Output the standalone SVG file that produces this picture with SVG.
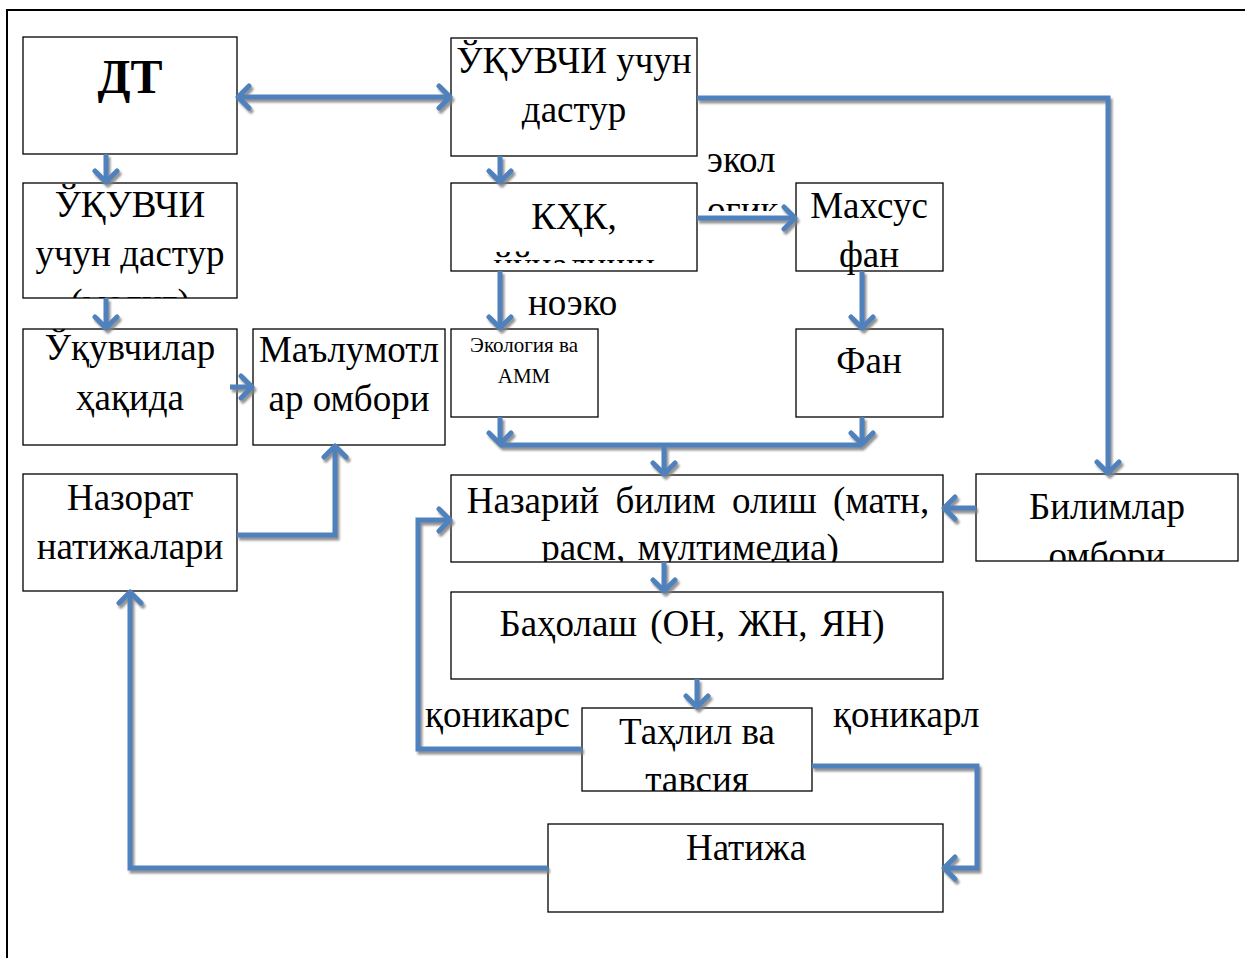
<svg xmlns="http://www.w3.org/2000/svg" width="1245" height="958" viewBox="0 0 1245 958">
<style>
.box{fill:#fff;stroke:#000;stroke-width:1.3}
.t{font-family:"Liberation Serif","Times New Roman",serif;font-size:37px;fill:#000;text-anchor:middle}
.tl{font-family:"Liberation Serif","Times New Roman",serif;font-size:37px;fill:#000}
.ts{font-family:"Liberation Serif","Times New Roman",serif;font-size:21px;fill:#000;text-anchor:middle}
.c{fill:none;stroke:#4F81BD;stroke-width:5}
</style>
<defs>
<marker id="ah" viewBox="-14 -14 20 28" refX="0" refY="0" markerWidth="20" markerHeight="28" orient="auto-start-reverse" markerUnits="userSpaceOnUse">
<path d="M-9,-11 L2,0 L-9,11" fill="none" stroke="#4F81BD" stroke-width="5" stroke-linecap="round" stroke-linejoin="round"/>
</marker>
<filter id="sh" x="-5%" y="-5%" width="110%" height="110%">
<feDropShadow dx="2" dy="3" stdDeviation="0.8" flood-color="#808080" flood-opacity="0.85"/>
</filter>
<clipPath id="cL1"><rect x="23" y="183" width="214" height="115"/></clipPath>
<clipPath id="cK"><rect x="451" y="183" width="246" height="80"/></clipPath>
<clipPath id="cU"><rect x="23" y="329" width="214" height="116"/></clipPath>
<clipPath id="cN"><rect x="451" y="475" width="492" height="87"/></clipPath>
<clipPath id="cB"><rect x="976" y="474" width="262" height="87"/></clipPath>
<clipPath id="cT"><rect x="582" y="708" width="230" height="83"/></clipPath>
<clipPath id="cE"><rect x="700" y="180" width="90" height="31"/></clipPath>
</defs>
<rect x="7" y="10" width="1260" height="1000" fill="#fff" stroke="#000" stroke-width="2"/>

<g id="n-dt"><rect class="box" x="23" y="37" width="214" height="117"/>
<text class="t" x="130" y="93" style="font-size:48px;font-weight:bold">ДТ</text></g>

<g id="n-top"><rect class="box" x="451" y="38" width="246" height="118"/>
<text class="t" x="574" y="73">ЎҚУВЧИ учун</text><text class="t" x="574" y="122">дастур</text></g>

<g id="n-left1"><rect class="box" x="23" y="183" width="214" height="115"/>
<g clip-path="url(#cL1)"><text class="t" x="130" y="217">ЎҚУВЧИ</text><text class="t" x="130" y="266">учун дастур</text><text class="t" x="130" y="315">(модул)</text></g></g>

<g id="n-kqk"><rect class="box" x="451" y="183" width="246" height="88"/>
<g clip-path="url(#cK)"><text class="t" x="574" y="229">КҲК,</text><text class="t" x="574" y="278">йўналиши</text></g></g>

<g id="n-mahsus"><rect class="box" x="796" y="183" width="147" height="88"/>
<text class="t" x="869" y="218">Махсус</text><text class="t" x="869" y="267">фан</text></g>

<g id="n-ekol"><rect class="box" x="451" y="329" width="147" height="88"/>
<text class="ts" x="524" y="352">Экология ва</text><text class="ts" x="524" y="383">АММ</text></g>

<g id="n-fan"><rect class="box" x="796" y="329" width="147" height="88"/>
<text class="t" x="869" y="373">Фан</text></g>

<g id="n-uquv"><rect class="box" x="23" y="329" width="214" height="116"/>
<g clip-path="url(#cU)"><text class="t" x="130" y="360">Ўқувчилар</text><text class="t" x="130" y="410">ҳақида</text><text class="t" x="130" y="463">маълумот</text></g></g>

<g id="n-malumot"><rect class="box" x="253" y="329" width="192" height="116"/>
<text class="t" x="349" y="362">Маълумотл</text><text class="t" x="349" y="411">ар омбори</text></g>

<g id="n-nazorat"><rect class="box" x="23" y="474" width="214" height="117"/>
<text class="t" x="130" y="510">Назорат</text><text class="t" x="130" y="559">натижалари</text></g>

<g id="n-nazariy"><rect class="box" x="451" y="475" width="492" height="87"/>
<g clip-path="url(#cN)"><text class="t" x="698" y="513" word-spacing="7">Назарий билим олиш (матн,</text><text class="t" x="690" y="560" word-spacing="3">расм, мултимедиа)</text></g></g>

<g id="n-bilim"><rect class="box" x="976" y="474" width="262" height="87"/>
<g clip-path="url(#cB)"><text class="t" x="1107" y="519">Билимлар</text><text class="t" x="1107" y="568">омбори</text></g></g>

<g id="n-baho"><rect class="box" x="451" y="592" width="492" height="87"/>
<text class="t" x="692" y="636" word-spacing="4">Баҳолаш (ОН, ЖН, ЯН)</text></g>

<g id="n-tahlil"><rect class="box" x="582" y="708" width="230" height="83"/>
<g clip-path="url(#cT)"><text class="t" x="697" y="744">Таҳлил ва</text><text class="t" x="697" y="792">тавсия</text></g></g>

<g id="n-natija"><rect class="box" x="548" y="824" width="395" height="88"/>
<text class="t" x="746" y="860">Натижа</text></g>

<g id="labels">
<text class="tl" x="707" y="172">экол</text>
<text class="tl" x="707" y="222" clip-path="url(#cE)">огик</text>
<text class="tl" x="528" y="315">ноэко</text>
<text class="tl" x="425" y="727">қоникарс</text>
<text class="tl" x="833" y="727">қоникарл</text>
</g>

<g id="connectors" filter="url(#sh)">
<path class="c" d="M240,97 L448,97" marker-start="url(#ah)" marker-end="url(#ah)"/>
<path class="c" d="M106,154 L106,180" marker-end="url(#ah)"/>
<path class="c" d="M106,298 L106,326" marker-end="url(#ah)"/>
<path class="c" d="M230,387 L250,387" marker-end="url(#ah)"/>
<path class="c" d="M697,98 L1108,98 L1108,471" marker-end="url(#ah)"/>
<path class="c" d="M500,156 L500,180" marker-end="url(#ah)"/>
<path class="c" d="M697,218 L793,218" marker-end="url(#ah)"/>
<path class="c" d="M500,271 L500,326" marker-end="url(#ah)"/>
<path class="c" d="M862,271 L862,326" marker-end="url(#ah)"/>
<path class="c" d="M500,417 L500,442" marker-end="url(#ah)"/>
<path class="c" d="M862,417 L862,442" marker-end="url(#ah)"/>
<path class="c" d="M500,445 L862,445"/>
<path class="c" d="M664,445 L664,472" marker-end="url(#ah)"/>
<path class="c" d="M976,508 L946,508" marker-end="url(#ah)"/>
<path class="c" d="M664,562 L664,589" marker-end="url(#ah)"/>
<path class="c" d="M697,679 L697,705" marker-end="url(#ah)"/>
<path class="c" d="M582,749 L418,749 L418,520 L448,520" marker-end="url(#ah)"/>
<path class="c" d="M812,766 L977,766 L977,868 L946,868" marker-end="url(#ah)"/>
<path class="c" d="M548,868 L130,868 L130,594" marker-end="url(#ah)"/>
<path class="c" d="M237,535 L335,535 L335,448" marker-end="url(#ah)"/>
</g>
</svg>
